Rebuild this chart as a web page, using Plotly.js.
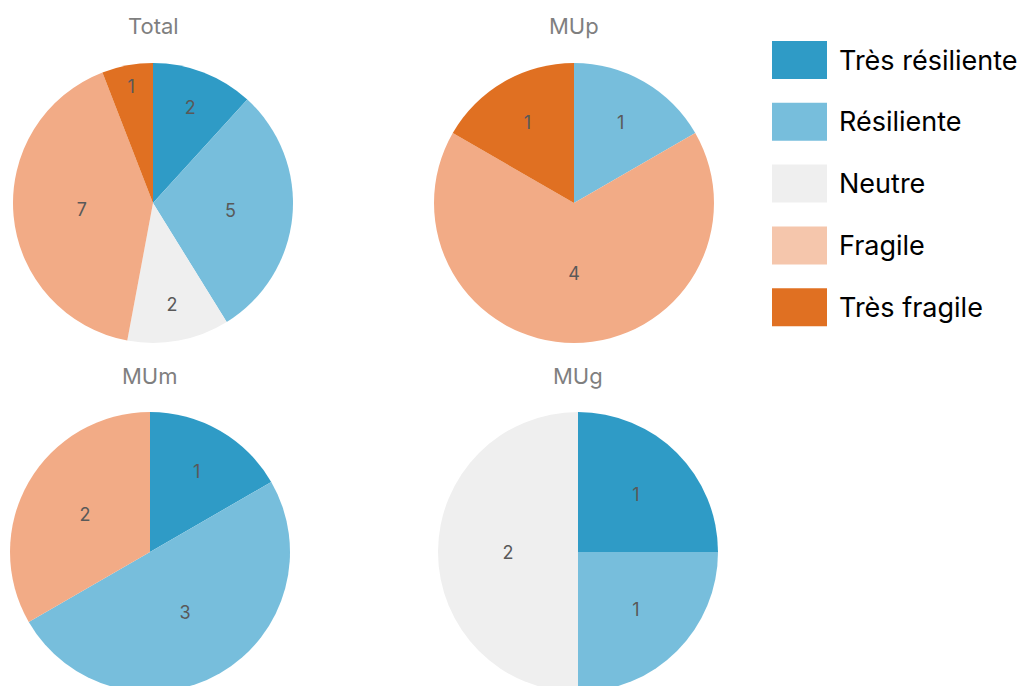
<!DOCTYPE html>
<html>
<head>
<meta charset="utf-8">
<script src="https://cdn.plot.ly/plotly-3.0.1.min.js"></script>
<style>
html,body{margin:0;padding:0;overflow:hidden;background:#fff;}
#chart{width:1032px;height:692px;}
</style>
</head>
<body>
<div id="chart"></div>
<script>
// ---- data ----
const categories = ["Très résiliente", "Résiliente", "Neutre", "Fragile", "Très fragile"];
const totalValues = [2, 5, 2, 7, 1];
const mupValues   = [0, 1, 0, 4, 1];
const mumValues   = [1, 3, 0, 2, 0];
const mugValues   = [1, 1, 2, 0, 0];
const chartTitles = ["Total", "MUp", "MUm", "MUg"];

// ---- styles ----
const sliceColors  = ["#2f9bc6", "#77bedc", "#efefef", "#f2ab86", "#e07022"];
const legendColors = ["#2f9bc6", "#77bedc", "#efefef", "#f5c6ac", "#e07022"];
const W = 1032, H = 692;
const FONT = "Inter, 'Noto Sans', Roboto, sans-serif";

// pie boxes in pixels: [left, right, top, bottom]
const boxes = [
  [13, 293, 63, 343],
  [434, 714, 63, 343],
  [10, 290, 412, 692],
  [438, 718, 412, 692]
];
const titlePos = [[153, 26], [574, 26], [150, 376], [578, 376]];
const allValues = [totalValues, mupValues, mumValues, mugValues];

const traces = allValues.map((vals, i) => {
  const labels = [], values = [], colors = [];
  vals.forEach((v, k) => {
    if (v > 0) { labels.push(categories[k]); values.push(v); colors.push(sliceColors[k]); }
  });
  const b = boxes[i];
  return {
    type: "pie",
    labels: labels,
    values: values,
    sort: false,
    direction: "clockwise",
    rotation: 0,
    marker: {colors: colors, line: {color: "#ffffff", width: 0}},
    textinfo: "value",
    textposition: "inside",
    insidetextorientation: "horizontal",
    textfont: {family: FONT, size: 18, color: "#595959"},
    showlegend: false,
    hoverinfo: "label+value",
    domain: {x: [b[0] / W, b[1] / W], y: [1 - b[3] / H, 1 - b[2] / H]}
  };
});

const annotations = chartTitles.map((t, i) => ({
  text: t, xref: "paper", yref: "paper",
  x: titlePos[i][0] / W, y: 1 - titlePos[i][1] / H,
  xanchor: "center", yanchor: "middle", showarrow: false,
  font: {family: FONT, size: 22, color: "#7f7f7f"}
}));

const shapes = [];
const legTop = 41, legStep = 61.8, boxW = 55, boxH = 38, legX = 772;
categories.forEach((c, k) => {
  const y0 = legTop + k * legStep;
  shapes.push({
    type: "rect", xref: "paper", yref: "paper",
    x0: legX / W, x1: (legX + boxW) / W,
    y0: 1 - (y0 + boxH) / H, y1: 1 - y0 / H,
    fillcolor: legendColors[k], line: {width: 0}
  });
  annotations.push({
    text: c, xref: "paper", yref: "paper",
    x: 837 / W, y: 1 - (y0 + boxH / 2) / H,
    xanchor: "left", yanchor: "middle", showarrow: false,
    font: {family: FONT, size: 27, color: "#000000"}
  });
});

const layout = {
  width: W, height: H,
  margin: {l: 0, r: 0, t: 0, b: 0},
  paper_bgcolor: "#ffffff",
  showlegend: false,
  uniformtext: {minsize: 18, mode: "show"},
  annotations: annotations,
  shapes: shapes
};

Plotly.newPlot("chart", traces, layout, {displayModeBar: false, staticPlot: true});
</script>
</body>
</html>
